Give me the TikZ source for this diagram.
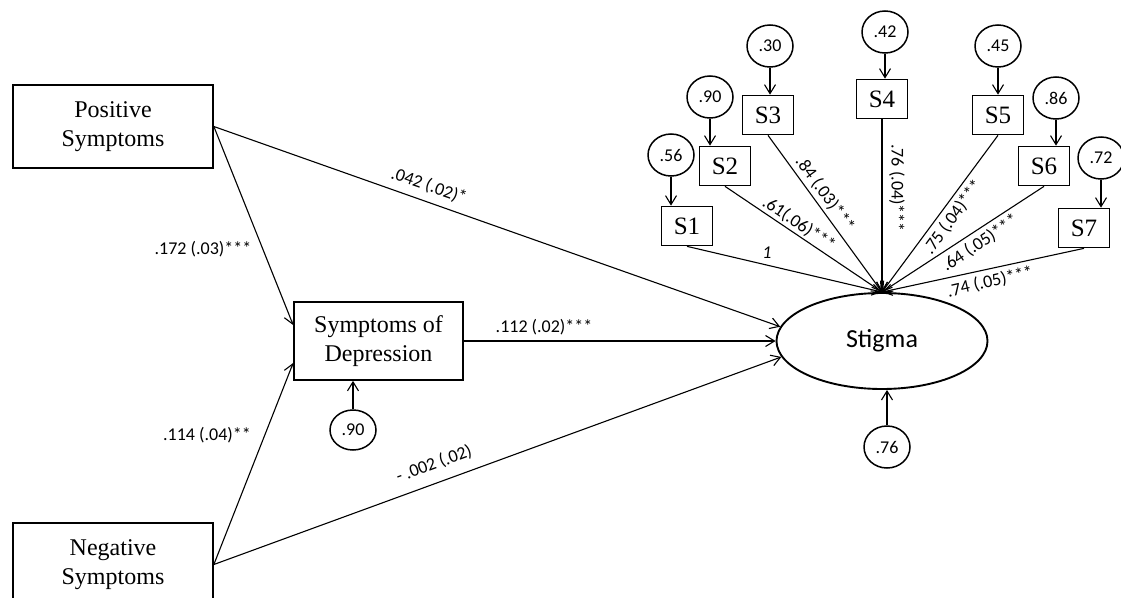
\documentclass[tikz,border=0pt]{standalone}
\usepackage{fontspec}
\setmainfont{Liberation Serif}
\newfontfamily\calfont{Carlito}
\usepackage{tikz}
\usetikzlibrary{positioning,arrows.meta,shapes.geometric}

\begin{document}
\begin{tikzpicture}[x=1pt,y=-1pt,
  varbox/.style={rectangle,draw,line width=1.7pt,inner sep=0pt,align=center,
      font=\fontsize{24}{29}\selectfont},
  itembox/.style={rectangle,draw,line width=1.7pt,inner sep=0pt,
      minimum width=51pt,minimum height=39pt,font=\fontsize{25}{25}\selectfont},
  errcirc/.style={ellipse,draw,line width=1.5pt,inner sep=0pt,
      minimum width=46pt,minimum height=42pt,font=\calfont\fontsize{18}{18}\selectfont},
  coef/.style={font=\calfont\fontsize{18}{18}\selectfont,inner sep=1pt},
  arr/.style={-{Straight Barb[length=9pt,width=11pt]},line width=1.1pt}]
\useasboundingbox (0,0) rectangle (1121,597);
\clip (0,0) rectangle (1121,597);
% observed variables and latent factor
\node[varbox,minimum width=200pt,minimum height=83pt] (PosS) at (113,126.5) {Positive\\Symptoms};
\node[varbox,minimum width=200pt,minimum height=83pt] (NegS) at (113,564.5) {Negative\\Symptoms};
\node[varbox,minimum width=169pt,minimum height=78pt] (Dep) at (378.5,341) {Symptoms of\\Depression};
\node[ellipse,draw,line width=1.9pt,inner sep=0pt,minimum width=211pt,minimum height=96pt,
      font=\calfont\fontsize{26}{26}\selectfont] (Stig) at (882,341) {Stigma};
\node[errcirc,minimum height=40pt] (eD) at (353,430) {.90};
\node[errcirc] (eSt) at (887,447) {.76};
% stigma items
\node[itembox] (S1) at (687,226) {S1};
\node[itembox] (S2) at (725,166) {S2};
\node[itembox] (S3) at (768,115) {S3};
\node[itembox] (S4) at (882,99) {S4};
\node[itembox] (S5) at (998,115) {S5};
\node[itembox] (S6) at (1044,166) {S6};
\node[itembox] (S7) at (1084,228) {S7};
\node[errcirc] (e1) at (671,155) {.56};
\node[errcirc] (e2) at (710,97) {.90};
\node[errcirc] (e3) at (770,46) {.30};
\node[errcirc] (e4) at (885,32) {.42};
\node[errcirc] (e5) at (998,46) {.45};
\node[errcirc] (e6) at (1056,98) {.86};
\node[errcirc] (e7) at (1101,158) {.72};
% structural paths
\draw[arr] (PosS.east) -- ([yshift=16pt]Dep.west);
\draw[arr] (NegS.east) -- ([yshift=-22pt]Dep.west);
\draw[arr] (PosS.east) -- (Stig.172);
\draw[arr] (NegS.east) -- (Stig.189);
\draw[arr] (Dep.east) -- (Stig.west);
\draw[arr] (eD.north) -- (eD.north |- Dep.south);
\draw[arr] (eSt.north) -- (eSt.north |- Stig.south);
% loadings
\draw[arr] (S1.south) -- (Stig.north);
\draw[arr] (S2.south) -- (Stig.north);
\draw[arr] (S3.south) -- (Stig.north);
\draw[arr] (S4.south) -- (Stig.north);
\draw[arr] (S5.south) -- (Stig.north);
\draw[arr] (S6.south) -- (Stig.north);
\draw[arr] (S7.south) -- (Stig.north);
\draw[arr] (e1.south) -- (e1.south |- S1.north);
\draw[arr] (e2.south) -- (e2.south |- S2.north);
\draw[arr] (e3.south) -- (e3.south |- S3.north);
\draw[arr] (e4.south) -- (e4.south |- S4.north);
\draw[arr] (e5.south) -- (e5.south |- S5.north);
\draw[arr] (e6.south) -- (e6.south |- S6.north);
\draw[arr] (e7.south) -- (e7.south |- S7.north);
% coefficients
\node[coef] (cPD) at (203,249) {.172 (.03)***};
\node[coef] (cND) at (207,435) {.114 (.04)**};
\node[coef] (cDS) at (544,327) {.112 (.02)***};
\node[coef,rotate=-19] (cPS) at (429,186) {.042 (.02)*};
\node[coef,rotate=20] (cNS) at (434,464) {- .002 (.02)};
\node[coef,font=\calfont\itshape\fontsize{18}{18}\selectfont] (l1) at (767,253) {1};
\node[coef,rotate=-34] (l2) at (799,224) {.61(.06)***};
\node[coef,rotate=-54] (l3) at (825,194) {.84 (.03)***};
\node[coef,rotate=-90] (l4) at (897,188) {.76 (.04)***};
\node[coef,rotate=54] (l5) at (953,217) {.75 (.04)***};
\node[coef,rotate=34] (l6) at (980,243) {.64 (.05)***};
\node[coef,rotate=13] (l7) at (990,282) {.74 (.05)***};
\end{tikzpicture}
\end{document}
